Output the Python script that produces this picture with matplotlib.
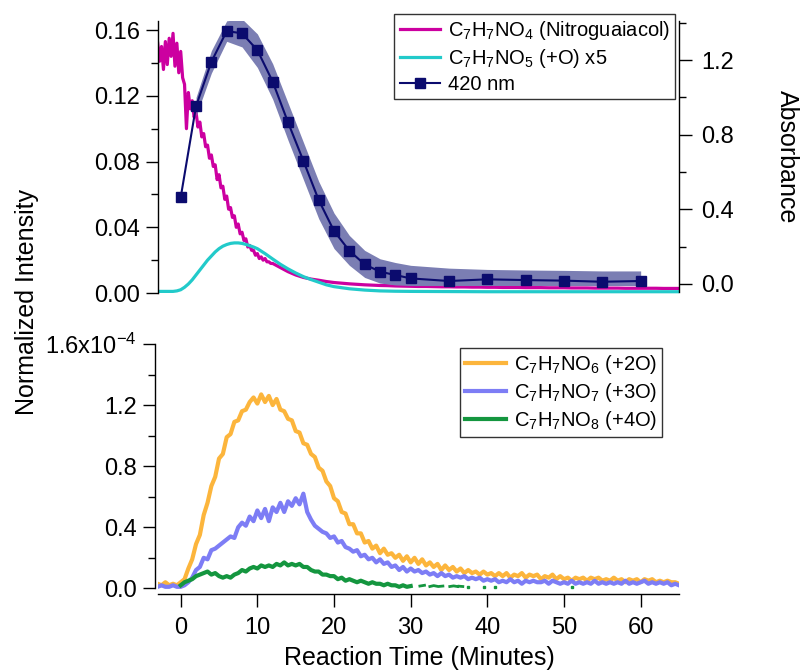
import numpy as np
import matplotlib
matplotlib.use('Agg')
import matplotlib.pyplot as plt
from matplotlib.ticker import FixedLocator, FuncFormatter

plt.rcParams['font.family'] = ['Liberation Sans', 'DejaVu Sans']
plt.rcParams['mathtext.fontset'] = 'custom'
plt.rcParams['mathtext.rm'] = 'Liberation Sans'
plt.rcParams['mathtext.it'] = 'Liberation Sans:italic'
plt.rcParams['mathtext.bf'] = 'Liberation Sans:bold'

nan = np.nan

# ---- top panel data ----
# nitroguaiacol trace: fine sampling early, coarse later
t_nitro = list(np.arange(-3, 12.01, 0.25)) + list(np.arange(13, 65.01, 1.0))
nitro = [0.152, 0.141, 0.150, 0.136, 0.153, 0.139, 0.155, 0.144, 0.158, 0.138,
         0.152, 0.134, 0.147, 0.131, 0.127, 0.100, 0.122, 0.112, 0.117, 0.107,
         0.110, 0.101, 0.104, 0.095, 0.097, 0.089, 0.090, 0.082, 0.084, 0.077,
         0.078, 0.069, 0.072, 0.064, 0.065, 0.057, 0.059, 0.051, 0.052, 0.046,
         0.047, 0.040, 0.042, 0.036, 0.037, 0.032, 0.033, 0.028, 0.029, 0.026,
         0.026, 0.023, 0.024, 0.021, 0.022, 0.020, 0.021, 0.019, 0.019, 0.018,
         0.018,
         0.0155, 0.013, 0.011, 0.0095, 0.0085, 0.0078, 0.0070, 0.0064, 0.0060, 0.0056,
         0.0053, 0.0050, 0.0048, 0.0046, 0.0045, 0.0043, 0.0042, 0.0041, 0.0040, 0.0040,
         0.0039, 0.0038, 0.0038, 0.0037, 0.0037, 0.0036, 0.0036, 0.0035, 0.0035, 0.0034,
         0.0034, 0.0034, 0.0033, 0.0033, 0.0033, 0.0032, 0.0032, 0.0032, 0.0031, 0.0031,
         0.0031, 0.0030, 0.0030, 0.0030, 0.0030, 0.0029, 0.0029, 0.0029, 0.0029, 0.0029,
         0.0028, 0.0028, 0.0028]

t_plus_o = [-3, -2, -1, -0.5, 0, 0.5, 1, 1.5, 2, 2.5, 3, 3.5, 4, 4.5, 5, 5.5, 6, 6.5,
            7, 7.5, 8, 8.5, 9, 9.5, 10, 11, 12, 13, 14, 15, 16, 17, 18, 19, 20,
            22, 24, 26, 28, 30, 35, 40, 45, 50, 55, 60, 65]
plus_o_x5 = [0.0010, 0.0010, 0.0010, 0.0013, 0.0020, 0.0035, 0.0055, 0.0080, 0.0110,
             0.0140, 0.0170, 0.0200, 0.0225, 0.0250, 0.0270, 0.0285, 0.0295, 0.0302,
             0.0305, 0.0305, 0.0302, 0.0296, 0.0288, 0.0280, 0.0270, 0.0240, 0.0207,
             0.0175, 0.0147, 0.0122, 0.0100, 0.0082, 0.0066, 0.0050, 0.0039,
             0.0026, 0.0018, 0.0013, 0.0011, 0.0010, 0.0009, 0.0008, 0.0008, 0.0008,
             0.0008, 0.0008, 0.0008]

# absorbance at 420 nm (right axis) and its shaded range
t_abs = [0, 2, 4, 6, 8, 10, 12, 14, 16, 18, 20, 22, 24, 26, 28, 30, 35, 40, 45, 50, 55, 60]
absorb = [0.464, 0.953, 1.19, 1.355, 1.343, 1.253, 1.084, 0.866, 0.66, 0.45, 0.284,
          0.178, 0.105, 0.066, 0.048, 0.030, 0.016, 0.025, 0.021, 0.018, 0.012, 0.016]
band_hi = [1.00, 1.25, 1.41, 1.42, 1.34, 1.18, 0.97, 0.76, 0.55, 0.38, 0.26, 0.18,
           0.135, 0.115, 0.100, 0.085, 0.078, 0.075, 0.073, 0.070, 0.070]
band_lo = [0.90, 1.13, 1.30, 1.27, 1.16, 0.99, 0.77, 0.56, 0.35, 0.19, 0.10, 0.035,
           0.005, -0.005, -0.008, -0.008, -0.008, -0.008, -0.008, -0.008, -0.008]

# ---- bottom panel data (units of 1e-4), sampled every 0.5 min ----
t_bot = np.arange(-3, 65.01, 0.5)
plus_2o = [0.03, 0.02, 0.04, 0.02, 0.03, 0.02, 0.04, 0.06, 0.13, 0.19,
           0.29, 0.35, 0.48, 0.56, 0.67, 0.73, 0.85, 0.88, 0.99, 1.01,
           1.09, 1.10, 1.16, 1.17, 1.22, 1.25, 1.21, 1.27, 1.22, 1.26,
           1.20, 1.24, 1.17, 1.16, 1.11, 1.10, 1.03, 1.02, 0.95, 0.94,
           0.88, 0.86, 0.79, 0.77, 0.70, 0.67, 0.59, 0.57, 0.50, 0.49,
           0.42, 0.42, 0.36, 0.36, 0.30, 0.31, 0.26, 0.28, 0.23, 0.26,
           0.22, 0.23, 0.20, 0.22, 0.18, 0.21, 0.17, 0.20, 0.16, 0.19,
           0.15, 0.17, 0.14, 0.16, 0.12, 0.15, 0.12, 0.14, 0.11, 0.13,
           0.10, 0.12, 0.10, 0.11, 0.09, 0.11, 0.09, 0.10, 0.08, 0.10,
           0.08, 0.10, 0.07, 0.09, 0.08, 0.10, 0.07, 0.09, 0.08, 0.09,
           0.06, 0.08, 0.07, 0.09, 0.06, 0.08, 0.06, 0.07, 0.05, 0.07,
           0.06, 0.07, 0.05, 0.07, 0.06, 0.07, 0.05, 0.06, 0.05, 0.07,
           0.05, 0.06, 0.04, 0.06, 0.05, 0.06, 0.04, 0.06, 0.05, 0.06,
           0.04, 0.05, 0.04, 0.05, 0.04, 0.04, 0.03]
plus_3o = [0.01, 0.02, 0.01, 0.01, 0.02, 0.01, 0.01, 0.02, 0.04, 0.07,
           0.12, 0.14, 0.20, 0.19, 0.25, 0.26, 0.28, 0.30, 0.32, 0.34,
           0.33, 0.40, 0.43, 0.41, 0.47, 0.44, 0.51, 0.46, 0.52, 0.44,
           0.53, 0.50, 0.56, 0.50, 0.57, 0.54, 0.59, 0.55, 0.62, 0.50,
           0.45, 0.41, 0.39, 0.37, 0.36, 0.33, 0.34, 0.30, 0.31, 0.27,
           0.26, 0.24, 0.25, 0.21, 0.22, 0.19, 0.20, 0.17, 0.19, 0.16,
           0.17, 0.14, 0.15, 0.12, 0.14, 0.11, 0.13, 0.11, 0.12, 0.10,
           0.11, 0.09, 0.10, 0.08, 0.10, 0.08, 0.09, 0.07, 0.08, 0.07,
           0.08, 0.06, 0.07, 0.06, 0.07, 0.05, 0.06, 0.05, 0.06, 0.04,
           0.05, 0.04, 0.06, 0.04, 0.05, 0.03, 0.05, 0.04, 0.05, 0.04,
           0.04, 0.05, 0.03, 0.05, 0.04, 0.03, 0.04, 0.03, 0.05, 0.03,
           0.04, 0.03, 0.04, 0.03, 0.05, 0.03, 0.04, 0.03, 0.04, 0.03,
           0.04, 0.03, 0.05, 0.03, 0.04, 0.03, 0.04, 0.05, 0.03, 0.04,
           0.03, 0.04, 0.03, 0.04, 0.02, 0.03, 0.02]
plus_4o = [nan, nan, nan, nan, nan, nan, 0.02, 0.04, 0.05, 0.06,
           0.08, 0.09, 0.10, 0.11, 0.09, 0.10, 0.08, 0.07, 0.08, 0.07,
           0.09, 0.10, 0.12, 0.11, 0.13, 0.14, 0.13, 0.15, 0.14, 0.15,
           0.14, 0.16, 0.15, 0.17, 0.15, 0.16, 0.15, 0.16, 0.14, 0.14,
           0.12, 0.11, 0.11, 0.09, 0.09, 0.08, 0.08, 0.06, 0.07, 0.05,
           0.06, 0.05, 0.04, 0.05, 0.04, 0.03, 0.04, 0.03, 0.03, 0.02,
           0.03, 0.02, 0.02, 0.01, 0.02, 0.01, 0.015]
# sparse points of the +4O trace after ~30 min
t_4o_tail = [31.2, 31.8, nan, 32.5, 33.0, 33.6, 34.2, nan, 35.1, 35.6, 36.1, nan, 36.3, 36.8]
v_4o_tail = [0.015, 0.02, nan, 0.012, 0.018, 0.012, 0.015, nan, 0.012, 0.016, 0.012, nan, 0.014, 0.012]
t_4o_dots = [37.5, 39.5, 41.0, 51.0]
v_4o_dots = [0.012, 0.012, 0.010, 0.006]

W, H = 801, 672
fig = plt.figure(figsize=(W / 100, H / 100), dpi=100)
ax = fig.add_axes([157.7 / W, 1 - 296 / H, 521.3 / W, 275 / H])
ax2 = ax.twinx()
axb = fig.add_axes([157.7 / W, 1 - 594.3 / H, 521.3 / W, 250.3 / H])

fs = 17
lab_fs = 18
maj = dict(direction='out', length=9, width=1, labelsize=fs)
mnr = dict(direction='out', length=5, width=1)

# top panel
l1, = ax.plot(t_nitro, nitro, color='#cc00a0', lw=2.3,
              label=r'C$_\mathregular{7}$H$_\mathregular{7}$NO$_\mathregular{4}$ (Nitroguaiacol)')
l2, = ax.plot(t_plus_o, plus_o_x5, color='#22caca', lw=2.3,
              label=r'C$_\mathregular{7}$H$_\mathregular{7}$NO$_\mathregular{5}$ (+O) x5')
ax2.fill_between(t_abs[1:], band_lo, band_hi, color='#7b7eb3', lw=0)
l3, = ax2.plot(t_abs, absorb, color='#0b0b6e', lw=1.5, marker='s', ms=7.5, label='420 nm')

ax.set_xlim(-3, 65)
ax.set_ylim(-0.0018, 0.1655)
ax2.set_ylim(-0.0643, 1.409)
for s in ['top', 'bottom', 'right']:
    ax.spines[s].set_visible(False)
for s in ['top', 'bottom', 'left']:
    ax2.spines[s].set_visible(False)
ax.spines['left'].set_bounds(0, 0.1655)
ax2.spines['right'].set_bounds(-0.045, 1.409)
ax.set_yticks([0, 0.04, 0.08, 0.12, 0.16])
ax.yaxis.set_major_formatter(FuncFormatter(lambda v, p: f'{v:.2f}'))
ax.yaxis.set_minor_locator(FixedLocator([0.02, 0.06, 0.10, 0.14]))
ax2.set_yticks([0, 0.4, 0.8, 1.2])
ax2.yaxis.set_major_formatter(FuncFormatter(lambda v, p: f'{v:.1f}'))
ax2.yaxis.set_minor_locator(FixedLocator([0.2, 0.6, 1.0, 1.4]))
ax.tick_params(axis='y', which='major', pad=4, **maj)
ax.tick_params(axis='y', which='minor', **mnr)
ax2.tick_params(axis='y', which='major', pad=7, **maj)
ax2.tick_params(axis='y', which='minor', **mnr)
ax.tick_params(axis='x', which='both', bottom=False, labelbottom=False)
ax2.tick_params(axis='x', which='both', bottom=False, labelbottom=False)

leg_kw = dict(loc='upper right', bbox_transform=fig.transFigure, borderaxespad=0,
              fancybox=False, framealpha=1, edgecolor='#333333', fontsize=14.5,
              handlelength=2.0, handletextpad=0.4, borderpad=0.25, labelspacing=0.25)
leg = ax2.legend(handles=[l1, l2, l3], bbox_to_anchor=(675 / W, 1 - 14 / H), **leg_kw)
leg.get_frame().set_linewidth(1)

# bottom panel
axb.plot(t_bot, plus_2o, color='#fcb53c', lw=3,
         label=r'C$_\mathregular{7}$H$_\mathregular{7}$NO$_\mathregular{6}$ (+2O)')
axb.plot(t_bot, plus_3o, color='#7d7df5', lw=3,
         label=r'C$_\mathregular{7}$H$_\mathregular{7}$NO$_\mathregular{7}$ (+3O)')
axb.plot(t_bot[:len(plus_4o)], plus_4o, color='#14963f', lw=3,
         label=r'C$_\mathregular{7}$H$_\mathregular{7}$NO$_\mathregular{8}$ (+4O)')
axb.plot(t_4o_tail, v_4o_tail, color='#14963f', lw=2)
axb.plot(t_4o_dots, v_4o_dots, 's', color='#14963f', ms=2)

axb.set_xlim(-3, 65)
axb.set_ylim(-0.039, 1.6)
axb.spines['top'].set_visible(False)
axb.spines['right'].set_visible(False)
axb.spines['left'].set_bounds(0, 1.6)
axb.spines['left'].set_position(('outward', 2))
axb.set_yticks([0, 0.4, 0.8, 1.2, 1.6])
axb.yaxis.set_major_formatter(FuncFormatter(
    lambda v, p: r'1.6x10$^{\mathregular{-4}}$' if abs(v - 1.6) < 1e-6 else f'{v:.1f}'))
axb.yaxis.set_minor_locator(FixedLocator([0.2, 0.6, 1.0, 1.4]))
axb.set_xticks([0, 10, 20, 30, 40, 50, 60])
axb.tick_params(axis='y', which='major', pad=4, **maj)
axb.tick_params(axis='x', which='major', pad=7, **maj)
axb.tick_params(axis='y', which='minor', **mnr)
leg_b = axb.legend(bbox_to_anchor=(662 / W, 1 - 348 / H), **leg_kw)
leg_b.get_frame().set_linewidth(1)

for a in [ax, ax2, axb]:
    for s in a.spines.values():
        s.set_linewidth(1)

fig.text(27 / W, 1 - 302 / H, 'Normalized Intensity', rotation=90, ha='center', va='center', fontsize=lab_fs)
fig.text(787 / W, 1 - 157 / H, 'Absorbance', rotation=-90, ha='center', va='center', fontsize=lab_fs)
fig.text(419 / W, 1 - 658 / H, 'Reaction Time (Minutes)', ha='center', va='center', fontsize=lab_fs)

fig.savefig('out.png', dpi=100)
